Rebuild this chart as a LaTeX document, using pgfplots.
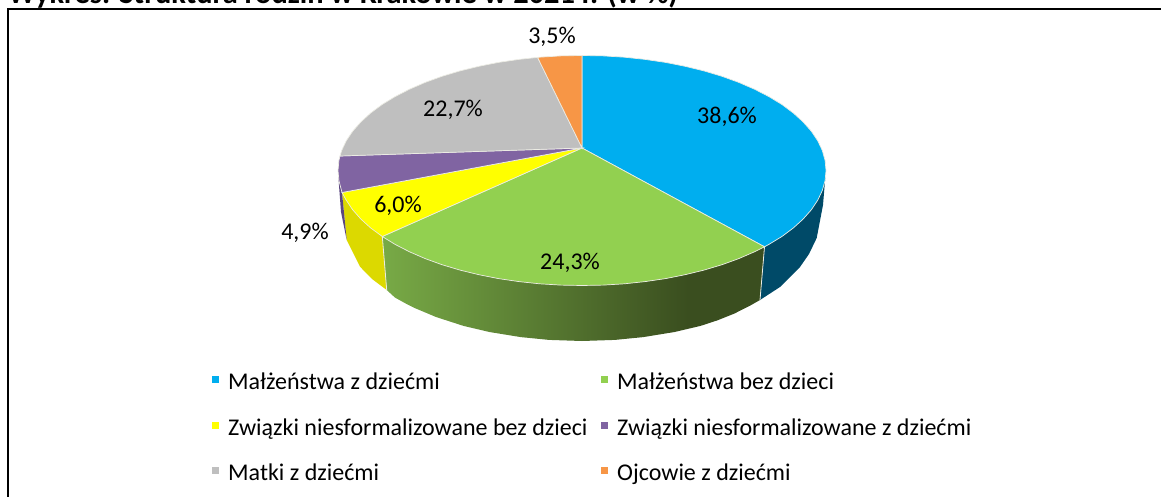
\documentclass[border=0pt]{standalone}
\usepackage{pgfplots}
\usepackage{fontspec}
\setmainfont{Carlito}
\pgfplotsset{compat=1.18}
\definecolor{cb}{HTML}{00AEEF}
\definecolor{cbs}{HTML}{004A68}
\definecolor{cg}{HTML}{92D050}
\definecolor{cy}{HTML}{FFFF00}
\definecolor{cys}{HTML}{DCD900}
\definecolor{cp}{HTML}{8064A2}
\definecolor{cps}{HTML}{5B4680}
\definecolor{cgr}{HTML}{BFBFBF}
\definecolor{co}{HTML}{F79646}
\definecolor{seam}{HTML}{ECECE4}
\definecolor{gsl}{HTML}{78AA46}
\definecolor{gsd}{HTML}{3A4E1F}
\pgfdeclarehorizontalshading{greenside}{100bp}{color(0bp)=(gsl); color(25bp)=(gsl); color(65bp)=(gsd); color(100bp)=(gsd)}
\newcommand{\lab}[1]{\makebox[371pt][l]{\rule[-6pt]{0pt}{27pt}#1}}
\newcommand{\labb}[1]{\rule[-6pt]{0pt}{27pt}#1}
\tikzset{lb/.style={anchor=base, font=\fontsize{24}{28}\selectfont}}
\begin{document}
\begin{tikzpicture}
\useasboundingbox (0,0) rectangle (1161pt,497pt);
\begin{axis}[
  at={(0pt,0pt)}, anchor=south west,
  width=1161pt, height=497pt, scale only axis,
  xmin=0, xmax=1161, ymin=0, ymax=497, y dir=reverse,
  hide axis, clip=false,
  legend columns=2,
  legend cell align=left,
  legend image code/.code={\fill[#1,draw=none] (0pt,-3.5pt) rectangle (7pt,3.5pt);},
  legend style={at={(axis cs:212,366.5)}, anchor=north west, draw=none, fill=none,
    font=\fontsize{24}{28}\selectfont, inner sep=0pt, row sep=19pt,
    /tikz/every odd column/.append style={column sep=7pt}},
]
% frame
\addplot[forget plot, black, line width=2pt] coordinates {(8.3,497)(8.3,9)(1161,9)};
% sides
\addplot[forget plot, fill=cbs, draw=none] coordinates {(825.5,175)(825.1,180.5)(817.7,200.3)(803.1,219.1)(781.9,236.5)(764.5,246.8)(760,300)(780,287)(800,267)(809,254)(816.7,238)(823,205)} --cycle;
\addplot[forget plot, shading=greenside, draw=none] coordinates {(382.3,236.5)(409.5,251.8)(442,264.7)(478.9,274.7)(518.9,281.6)(560.7,285.1)(603.3,285.1)(645.1,281.6)(685.1,274.7)(722,264.7)(764.5,246.8)(760,300)(749.6,305.9)(734.3,313.6)(717,320.5)(700.5,325.9)(674.6,332)(643.3,337.1)(615,339.9)(582,341)(549,339.9)(520.7,337.1)(489.4,332)(463.5,325.9)(436,317)(414.4,307.9)(405.9,303.6)(395,297.6)(386.7,290)} --cycle;
\addplot[forget plot, seam, line width=0.8pt] coordinates {(764.5,246.8)(760,300)};
\addplot[forget plot, fill=cys, draw=none] coordinates {(342,192.5)(346.3,200.3)(360.9,219.1)(382.3,236.5)(386.7,290)(372,279)(360,266.7)(346.7,240)} --cycle;
\addplot[forget plot, seam, line width=0.8pt] coordinates {(382.3,236.5)(386.7,290)};
\addplot[forget plot, fill=cps, draw=none] coordinates {(338,172)(338.9,180.5)(342,192.5)(346.7,240)(341,212)} --cycle;
% top faces
\addplot[fill=cb, draw=seam, line width=0.7pt] coordinates {(582,148)(582,55.5)(603.3,55.9)(624.4,57.2)(645.1,59.4)(665.5,62.4)(685.1,66.3)(704,70.9)(722,76.3)(738.8,82.4)(754.5,89.2)(768.9,96.6)(781.9,104.5)(793.3,113)(803.1,121.9)(811.3,131.2)(817.7,140.7)(822.3,150.5)(825.1,160.5)(826,170.5)(825.1,180.5)(822.3,190.5)(817.7,200.3)(811.3,209.8)(803.1,219.1)(793.3,228)(781.9,236.5)(768.9,244.4)(764.5,246.8)} --cycle;
\addlegendentry{\lab{Małżeństwa z dziećmi}}
\addplot[fill=cg, draw=seam, line width=0.7pt] coordinates {(582,148)(764.5,246.8)(754.5,251.8)(738.8,258.6)(722,264.7)(704,270.1)(685.1,274.7)(665.5,278.6)(645.1,281.6)(624.4,283.8)(603.3,285.1)(582,285.5)(560.7,285.1)(539.6,283.8)(518.9,281.6)(498.5,278.6)(478.9,274.7)(460,270.1)(442,264.7)(425.2,258.6)(409.5,251.8)(395.1,244.4)(382.3,236.5)} --cycle;
\addlegendentry{\labb{Małżeństwa bez dzieci}}
\addplot[fill=cy, draw=seam, line width=0.7pt] coordinates {(582,148)(382.3,236.5)(370.7,228)(360.9,219.1)(352.7,209.8)(346.3,200.3)(342,192.5)} --cycle;
\addlegendentry{\lab{Związki niesformalizowane bez dzieci}}
\addplot[fill=cp, draw=seam, line width=0.7pt] coordinates {(582,148)(342,192.5)(338.9,180.5)(338,170.5)(338.9,160.5)(340,156)} --cycle;
\addlegendentry{\labb{Związki niesformalizowane z dziećmi}}
\addplot[fill=cgr, draw=seam, line width=0.7pt] coordinates {(582,148)(340,156)(341.7,150.5)(346.3,140.7)(352.7,131.2)(360.9,121.9)(370.7,113)(382.1,104.5)(395.1,96.6)(409.5,89.2)(425.2,82.4)(442,76.3)(460,70.9)(478.9,66.3)(498.5,62.4)(518.9,59.4)(537.6,57.4)} --cycle;
\addlegendentry{\lab{Matki z dziećmi}}
\addplot[fill=co, draw=seam, line width=0.7pt] coordinates {(582,148)(537.6,57.4)(539.6,57.2)(560.7,55.9)(582,55.5)} --cycle;
\addlegendentry{\labb{Ojcowie z dziećmi}}
% labels
\node[lb] at (axis cs:552,44) {3,5\%};
\node[lb] at (axis cs:727,124) {38,6\%};
\node[lb] at (axis cs:453,117) {22,7\%};
\node[lb] at (axis cs:398,212) {6,0\%};
\node[lb] at (axis cs:305,239) {4,9\%};
\node[lb] at (axis cs:570,269) {24,3\%};
\node[anchor=base west, inner sep=0pt, font=\bfseries\fontsize{30.4}{34}\selectfont] at (axis cs:8,4) {Wykres. Struktura rodzin w Krakowie w 2021 r. (w \%)};
\end{axis}
\end{tikzpicture}
\end{document}
